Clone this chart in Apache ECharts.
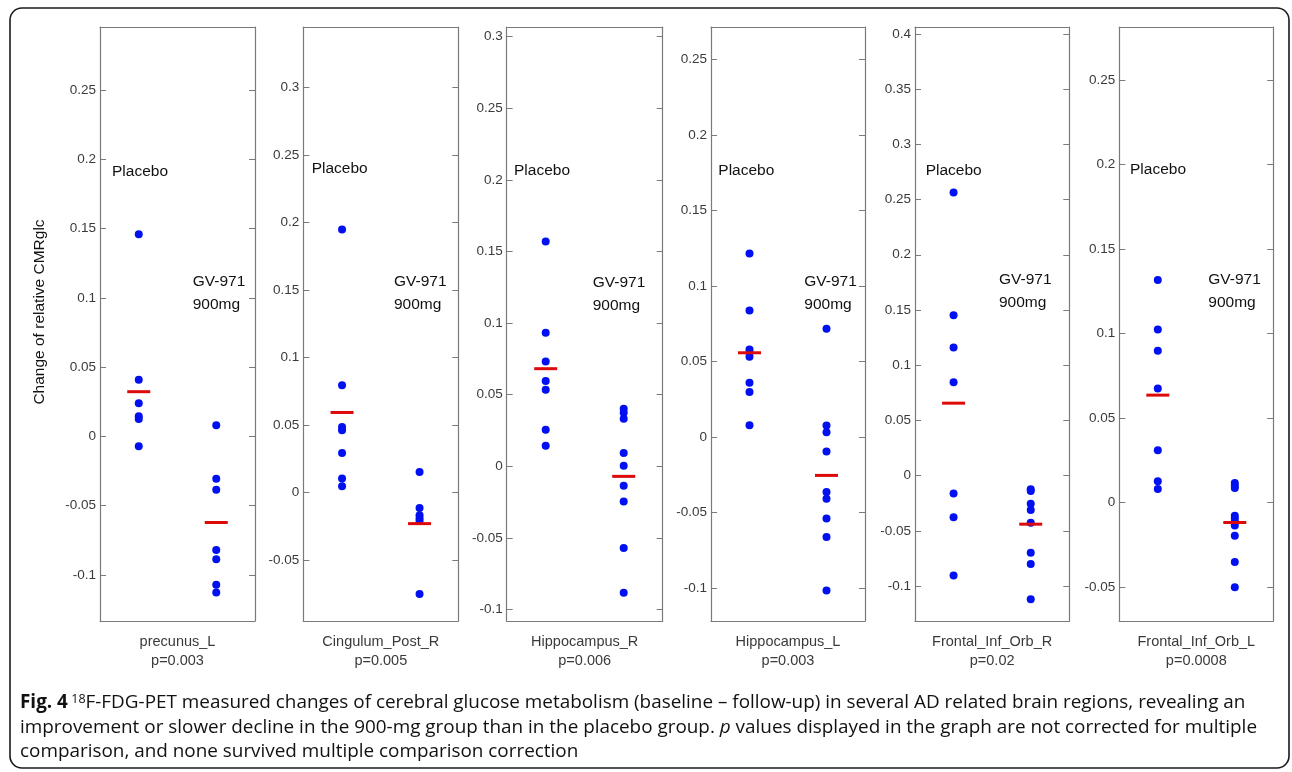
<!DOCTYPE html>
<html>
<head>
<meta charset="utf-8">
<script src="https://cdn.jsdelivr.net/npm/echarts@6/dist/echarts.min.js"></script>
<style>
html,body{margin:0;padding:0;background:#fff;}
#chart{width:1292px;height:772px;}
</style>
</head>
<body>
<div id="chart"></div>
<script>
// ---------- data ----------
const regions = ['precunus_L', 'Cingulum_Post_R', 'Hippocampus_R', 'Hippocampus_L', 'Frontal_Inf_Orb_R', 'Frontal_Inf_Orb_L'];
const pValues = ['p=0.003', 'p=0.005', 'p=0.006', 'p=0.003', 'p=0.02', 'p=0.0008'];
const groups = ['Placebo', 'GV-971 900mg'];

const placebo = [
  [0.146, 0.041, 0.024, 0.0145, 0.0125, -0.007],
  [0.1948, 0.0795, 0.0486, 0.0461, 0.0293, 0.0104, 0.0047],
  [0.157, 0.0933, 0.0733, 0.0596, 0.0535, 0.0256, 0.0144],
  [0.1215, 0.0837, 0.0579, 0.0557, 0.053, 0.0358, 0.0298, 0.0077],
  [0.2564, 0.1453, 0.116, 0.0846, -0.0163, -0.0377, -0.0906],
  [0.1316, 0.1024, 0.0898, 0.0674, 0.0308, 0.0125, 0.0079]
];
const gv971 = [
  [0.008, -0.0306, -0.0385, -0.0819, -0.0886, -0.107, -0.1127],
  [0.0153, -0.0114, -0.0168, -0.0193, -0.021, -0.0751],
  [0.0403, 0.0375, 0.0333, 0.0093, 0.0005, -0.0135, -0.0246, -0.057, -0.0882],
  [0.0716, 0.0075, 0.003, -0.0097, -0.0365, -0.0409, -0.054, -0.0663, -0.1017],
  [-0.0123, -0.014, -0.0256, -0.0311, -0.0426, -0.0698, -0.08, -0.112],
  [0.0115, 0.0099, 0.0085, -0.0079, -0.0095, -0.0116, -0.0136, -0.0197, -0.0353, -0.0502]
];
const meanPlacebo = [0.0323, 0.0593, 0.0682, 0.0557, 0.0656, 0.0635];
const meanGV = [-0.0621, -0.023, -0.007, -0.0255, -0.044, -0.0119];

const yMin = [-0.1332, -0.0951, -0.108, -0.1219, -0.1317, -0.0702];
const yMax = [0.2955, 0.3447, 0.3068, 0.2714, 0.4063, 0.2814];
const yTicks = [
  [-0.1, -0.05, 0, 0.05, 0.1, 0.15, 0.2, 0.25],
  [-0.05, 0, 0.05, 0.1, 0.15, 0.2, 0.25, 0.3],
  [-0.1, -0.05, 0, 0.05, 0.1, 0.15, 0.2, 0.25, 0.3],
  [-0.1, -0.05, 0, 0.05, 0.1, 0.15, 0.2, 0.25],
  [-0.1, -0.05, 0, 0.05, 0.1, 0.15, 0.2, 0.25, 0.3, 0.35, 0.4],
  [-0.05, 0, 0.05, 0.1, 0.15, 0.2, 0.25]
];
const yAxisTitle = 'Change of relative CMRglc';
const groupLabel1 = 'Placebo';
const groupLabel2a = 'GV-971';
const groupLabel2b = '900mg';

// ---------- layout (pixels, styles) ----------
const gridLeft = [100, 303.3, 506.7, 711, 915, 1119.3];
const gridWidth = [155, 155, 156, 154, 154.3, 154];
const gridTop = 27, gridHeight = 594;
const placeboLabelPos = [[12, 171.7], [8.4, 168.3], [7.3, 170.7], [7.3, 170.7], [10.7, 170.7], [10.7, 170]];
const gvLabelPos = [[92.7, 281.7], [90.7, 281.7], [86, 282.7], [93.3, 281.7], [84, 279.3], [89, 280]];

const FONT = '"Liberation Sans", Arial, Helvetica, sans-serif';
const AXIS_COLOR = '#7a7a7a';
const LABEL_COLOR = '#3a3a3a';
const DOT_COLOR = '#0010f0';
const MEAN_COLOR = '#dd0a0a';

const grids = [], xAxes = [], yAxes = [], series = [], graphics = [];

regions.forEach((reg, i) => {
  grids.push({left: gridLeft[i], top: gridTop, width: gridWidth[i], height: gridHeight, containLabel: false});
  const commonLine = {show: true, onZero: false, lineStyle: {color: AXIS_COLOR, width: 1.2}};
  // bottom x
  xAxes.push({
    gridIndex: i, type: 'category', data: groups, boundaryGap: true, position: 'bottom',
    axisLine: commonLine,
    axisTick: {show: true, inside: true, length: 6, lineStyle: {color: AXIS_COLOR}},
    axisLabel: {show: false}, splitLine: {show: false},
    name: reg + '\n' + pValues[i], nameLocation: 'middle', nameGap: 11,
    nameTextStyle: {fontFamily: FONT, fontSize: 14.5, color: LABEL_COLOR, lineHeight: 19, verticalAlign: 'top'}
  });
  // top x (mirror)
  xAxes.push({
    gridIndex: i, type: 'category', data: groups, boundaryGap: true, position: 'top',
    axisLine: commonLine,
    axisTick: {show: true, inside: true, length: 6, lineStyle: {color: AXIS_COLOR}},
    axisLabel: {show: false}, splitLine: {show: false}
  });
  // left y
  yAxes.push({
    gridIndex: i, type: 'value', min: yMin[i], max: yMax[i], position: 'left',
    axisLine: commonLine,
    axisTick: {show: true, inside: true, length: 6, customValues: yTicks[i], lineStyle: {color: AXIS_COLOR}},
    axisLabel: {show: true, customValues: yTicks[i], fontFamily: FONT, fontSize: 13.5, color: LABEL_COLOR, margin: 4,
      formatter: v => String(Math.round(v * 1000) / 1000)},
    splitLine: {show: false}
  });
  // right y (mirror)
  yAxes.push({
    gridIndex: i, type: 'value', min: yMin[i], max: yMax[i], position: 'right',
    axisLine: commonLine,
    axisTick: {show: true, inside: true, length: 6, customValues: yTicks[i], lineStyle: {color: AXIS_COLOR}},
    axisLabel: {show: false}, splitLine: {show: false}
  });
  const xb = 2 * i, yl = 2 * i;
  series.push({
    type: 'scatter', xAxisIndex: xb, yAxisIndex: yl, symbol: 'circle', symbolSize: 8,
    itemStyle: {color: DOT_COLOR, opacity: 1}, z: 3, silent: true,
    data: placebo[i].map(v => [groups[0], v]).concat(gv971[i].map(v => [groups[1], v]))
  });
  series.push({
    type: 'scatter', xAxisIndex: xb, yAxisIndex: yl, symbol: 'rect', symbolSize: [23, 3],
    itemStyle: {color: MEAN_COLOR, opacity: 1}, z: 4, silent: true,
    data: [[groups[0], meanPlacebo[i]], [groups[1], meanGV[i]]]
  });
  // group labels
  const ts = {fontFamily: FONT, fontSize: 15.5, fill: '#111', textVerticalAlign: 'middle', textAlign: 'left'};
  graphics.push({type: 'text', x: gridLeft[i] + placeboLabelPos[i][0], y: placeboLabelPos[i][1],
    style: Object.assign({text: groupLabel1}, ts)});
  graphics.push({type: 'text', x: gridLeft[i] + gvLabelPos[i][0], y: gvLabelPos[i][1],
    style: Object.assign({text: groupLabel2a}, ts)});
  graphics.push({type: 'text', x: gridLeft[i] + gvLabelPos[i][0], y: gvLabelPos[i][1] + 23,
    style: Object.assign({text: groupLabel2b}, ts)});
});

// y axis title
graphics.push({type: 'text', x: 40, y: 312, rotation: Math.PI / 2,
  style: {text: yAxisTitle, fontFamily: FONT, fontSize: 15.5, fill: '#111', textAlign: 'center', textVerticalAlign: 'middle'}});

// frame
graphics.push({type: 'rect', shape: {x: 10, y: 8, width: 1279, height: 760, r: 12},
  style: {fill: null, stroke: '#1a1a1a', lineWidth: 1.6}, z: -1});

// caption
const CAP_FONT = '"Open Sans", "Noto Sans", sans-serif';
const CAP_SIZE = 18.9;
const capRich = {
  b: {fontFamily: CAP_FONT, fontSize: CAP_SIZE, fontWeight: 'bold', fill: '#111'},
  n: {fontFamily: CAP_FONT, fontSize: CAP_SIZE, fill: '#111'},
  i: {fontFamily: CAP_FONT, fontSize: CAP_SIZE, fontStyle: 'italic', fill: '#111'},
  sup: {fontFamily: CAP_FONT, fontSize: 12.5, fill: '#111', verticalAlign: 'top', padding: [0, 0, 7, 0]}
};
const capLines = [
  '{b|Fig. 4} {sup|18}{n|F-FDG-PET measured changes of cerebral glucose metabolism (baseline – follow-up) in several AD related brain regions, revealing an}',
  '{n|improvement or slower decline in the 900-mg group than in the placebo group. }{i|p}{n| values displayed in the graph are not corrected for multiple}',
  '{n|comparison, and none survived multiple comparison correction}'
];
const capY = [703, 728, 752];
capLines.forEach((t, k) => {
  graphics.push({type: 'text', x: 20, y: capY[k],
    style: {text: t, rich: capRich, textVerticalAlign: 'middle', textAlign: 'left'}});
});

const chart = echarts.init(document.getElementById('chart'), null, {renderer: 'canvas'});
chart.setOption({
  animation: false,
  backgroundColor: '#ffffff',
  textStyle: {fontFamily: FONT},
  grid: grids, xAxis: xAxes, yAxis: yAxes, series: series,
  graphic: {elements: graphics}
});
</script>
</body>
</html>
